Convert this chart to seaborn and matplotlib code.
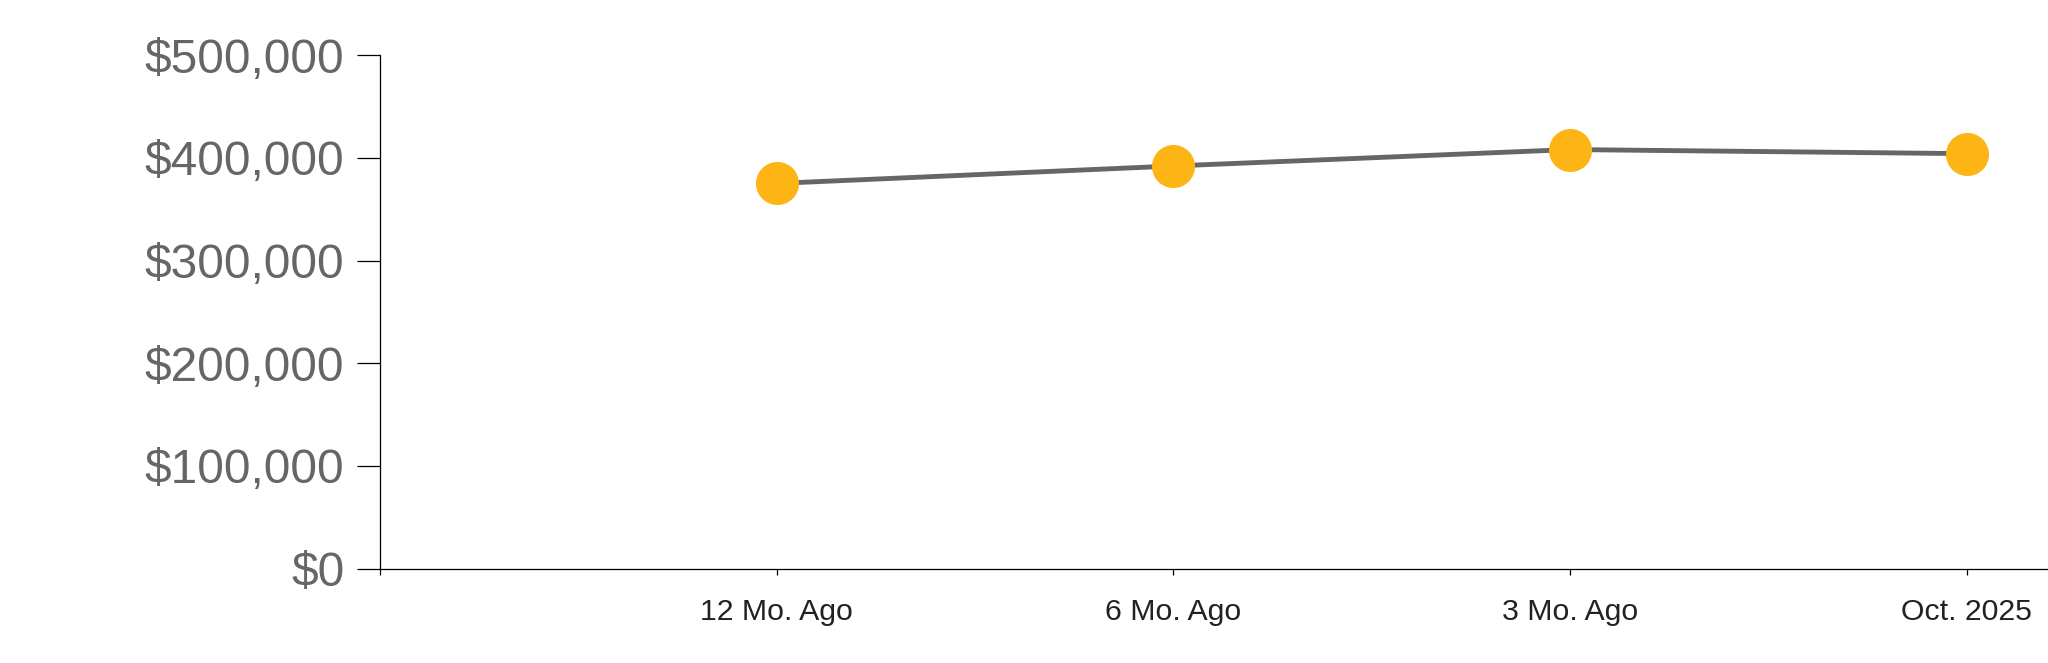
import pandas as pd
import matplotlib.pyplot as plt
import seaborn as sns
from matplotlib.ticker import FuncFormatter

periods = ["12 Mo. Ago", "6 Mo. Ago", "3 Mo. Ago", "Oct. 2025"]
values = [375000, 392000, 408000, 404000]

df = pd.DataFrame({"period": periods, "value": values})

sns.set_style("white")
plt.rcParams["font.family"] = ["Liberation Sans", "DejaVu Sans"]

fig = plt.figure(figsize=(20.48, 6.63), dpi=100)
ax = fig.add_axes([0.1855, 0.1422, 0.8145, 0.7748])

sns.lineplot(data=df, x="period", y="value", sort=False, ax=ax,
             color="#666666", linewidth=3.5, marker="o", markersize=31,
             markerfacecolor="#FDB515", markeredgewidth=0)

ax.set_xlim(-1, 3.205)
ax.set_ylim(0, 500000)
ax.set_yticks([0, 100000, 200000, 300000, 400000, 500000])
ax.yaxis.set_major_formatter(FuncFormatter(lambda v, p: f"${v:,.0f}"))
ax.set_xlabel("")
ax.set_ylabel("")

for s in ["top", "right"]:
    ax.spines[s].set_visible(False)
for s in ["left", "bottom"]:
    ax.spines[s].set_color("black")
    ax.spines[s].set_linewidth(0.9)

ax.tick_params(axis="y", direction="out", length=16.6, width=0.9, color="black",
               labelsize=34.5, labelcolor="#666666", pad=9, left=True)
ax.tick_params(axis="x", direction="out", length=4.3, width=0.9, color="black",
               labelsize=21.8, labelcolor="#222222", pad=16.5, bottom=True)
ax.set_xticks([-1, 0, 1, 2, 3])
ax.set_xticklabels([""] + periods)

fig.savefig("out.png", dpi=100)
